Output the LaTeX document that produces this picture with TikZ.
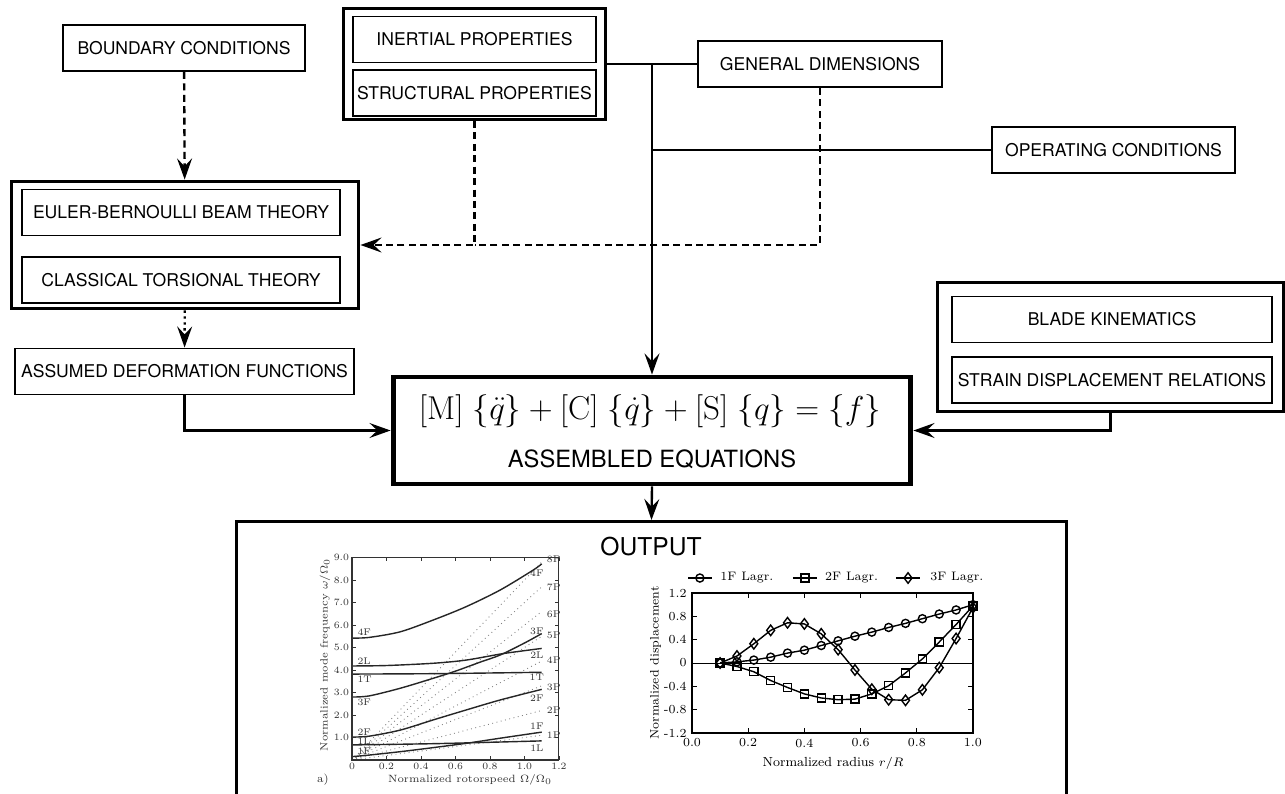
\documentclass[tikz,border=0pt]{standalone}
\usepackage{amsmath,amssymb}
\usepackage{graphicx}
\usepackage{fontspec}
\setsansfont{TeX Gyre Heros}
\usepackage{tikz}
\usetikzlibrary{arrows.meta, positioning, calc, plotmarks}

\begin{document}
\begin{tikzpicture}[
    x=0.02cm, y=-0.02cm,
    blk/.style={draw, line width=1.1pt, font=\sffamily\fontsize{10}{12}\selectfont, minimum height=0.92cm, inner sep=1pt},
    grp/.style={draw, line width=1.7pt},
    wire/.style={line width=1.35pt},
    edge/.style={wire, -{Stealth[length=12pt, width=8.5pt, inset=4.5pt]}},
    dsh/.style={dash pattern=on 4pt off 2.5pt},
    crv/.style={line width=0.8pt, black!85},
    mk/.style={line width=0.8pt, mark size=2.3pt, mark options={solid, fill=white}},
    tck/.style={line width=0.4pt}
]
    \useasboundingbox (0,0) rectangle (1285,794);

    \node[blk, minimum width=4.84cm] (bc) at (184,48) {BOUNDARY CONDITIONS};

    \node[grp, minimum width=6.96cm, minimum height=2.56cm] (theory) at (185,245) {};
    \node[blk, minimum width=6.36cm] (euler) at (181,212.5) {EULER-BERNOULLI BEAM THEORY};
    \node[blk, minimum width=6.36cm, below=0.4cm of euler] (tors) {CLASSICAL TORSIONAL THEORY};

    \node[blk, minimum width=6.78cm] (defo) at (184.5,371.5) {ASSUMED DEFORMATION FUNCTIONS};

    \node[grp, minimum width=5.26cm, minimum height=2.22cm] (props) at (474.5,64) {};
    \node[blk, minimum width=4.86cm] (inert) at (474.5,39.5) {INERTIAL PROPERTIES};
    \node[blk, minimum width=4.86cm, below=0.12cm of inert] (struct) {STRUCTURAL PROPERTIES};

    \node[blk, minimum width=4.88cm] (gen) at (820,64) {GENERAL DIMENSIONS};
    \node[blk, minimum width=4.86cm] (oper) at (1113.5,150) {OPERATING CONDITIONS};

    \node[grp, minimum width=6.94cm, minimum height=2.6cm] (kin) at (1110.5,347) {};
    \node[blk, minimum width=6.4cm] (blade) at (1112,319.5) {BLADE KINEMATICS};
    \node[blk, minimum width=6.4cm, below=0.26cm of blade] (strain) {STRAIN DISPLACEMENT RELATIONS};

    \node[draw, line width=2.8pt, minimum width=10.36cm, minimum height=2.14cm] (eq) at (652,430.5) {};
    \node[inner sep=0pt] (eqn) at (650,411) {\scalebox{1.09}{\fontsize{17.28}{20}\selectfont$[\mathrm{M}]\;\{\ddot{q}\}+[\mathrm{C}]\;\{\dot{q}\}+[\mathrm{S}]\;\{q\}=\{f\}$}};
    \node[inner sep=0pt, font=\sffamily\fontsize{13.5}{15}\selectfont] (asm) at (652,459) {ASSEMBLED EQUATIONS};

    \node[grp, minimum width=16.62cm, minimum height=7cm, anchor=north] (out) at (651.5,520) {};
    \node[font=\sffamily\fontsize{14}{16}\selectfont] (outlbl) at (651,547) {OUTPUT};

    \draw[edge, dsh] (bc) -- (theory);
    \draw[edge, dotted] (theory) -- (defo);
    \draw[wire, dsh] (gen.south) |- (props.south |- theory.east);
    \draw[edge, dsh] (props.south) |- (theory.east);
    \draw[wire] (props.east) -- (gen.west);
    \draw[edge] (props.east -| eq.north) -- (eq.north);
    \draw[wire] (oper.west) -- (oper.west -| eq.north);
    \draw[edge] (defo.south) |- (eq.west);
    \draw[edge] (kin.south) |- (eq.east);
    \draw[edge] (eq.south) -- (out.north);

    \begin{scope}[shift={(352,760)}, x=3.45cm, y=0.45cm, font=\fontsize{5.5}{6}\selectfont, black!80]
        \foreach \n in {1,...,8}
            \draw[gray, dotted, line width=0.5pt] (0,0) -- (1.1,1.1*\n);
        \draw[crv] plot[smooth] coordinates {(0,5.42) (0.1,5.45) (0.28,5.7) (0.47,6.22) (0.66,6.81) (0.86,7.56) (1.05,8.44) (1.1,8.72)};
        \draw[crv] plot[smooth] coordinates {(0,4.18) (0.2,4.2) (0.47,4.3) (0.66,4.44) (0.86,4.71) (0.95,4.81) (1.1,4.96)};
        \draw[crv] plot[smooth] coordinates {(0,3.82) (0.5,3.84) (1.1,3.9)};
        \draw[crv] plot[smooth] coordinates {(0,2.8) (0.1,2.85) (0.28,3.19) (0.47,3.63) (0.6,3.95) (0.75,4.37) (0.86,4.67) (1.0,5.2) (1.1,5.62)};
        \draw[crv] plot[smooth] coordinates {(0,1.02) (0.1,1.06) (0.28,1.33) (0.47,1.78) (0.66,2.22) (0.86,2.67) (1.1,3.14)};
        \draw[crv] plot[smooth] coordinates {(0,0.67) (0.5,0.73) (1.1,0.85)};
        \draw[crv] plot[smooth] coordinates {(0,0.15) (0.1,0.22) (0.28,0.37) (0.47,0.55) (0.66,0.74) (0.86,0.97) (1.1,1.24)};
        \draw[line width=0.6pt] (0,0) rectangle (1.2,9);
        \foreach \t/\l [count=\i] in {0/0,0.2/0.2,0.4/0.4,0.6/0.6,0.8/0.8,1.0/1.0,1.2/1.2}{
            \draw[tck] (\t,0) -- ++(0,2pt) (\t,9) -- ++(0,-2pt);
            \node[below, inner sep=1.5pt] (ax\i) at (\t,0) {\l};}
        \foreach \v in {1,...,9}{
            \draw[tck] (0,\v) -- ++(2pt,0) (1.2,\v) -- ++(-2pt,0);
            \node[left, inner sep=1.5pt] (ay\v) at (0,\v) {\v.0};}
        \node[right, inner sep=0pt] (la4F) at (0.03,5.69) {4F};
        \node[right, inner sep=0pt] (la2L) at (0.03,4.4) {2L};
        \node[right, inner sep=0pt] (la1T) at (0.03,3.6) {1T};
        \node[right, inner sep=0pt] (la3F) at (0.03,2.58) {3F};
        \node[right, inner sep=0pt] (la2F) at (0.03,1.24) {2F};
        \node[right, inner sep=0pt] (la1L) at (0.03,0.84) {1L};
        \node[right, inner sep=0pt] (la1F) at (0.03,0.4) {1F};
        \node (lb8P) at (1.17,8.93) {8P};
        \node (lb4F) at (1.072,8.31) {4F};
        \node (lb7P) at (1.17,7.69) {7P};
        \node (lb6P) at (1.17,6.49) {6P};
        \node (lb3F) at (1.072,5.73) {3F};
        \node (lb5P) at (1.17,5.56) {5P};
        \node (lb2L) at (1.072,4.67) {2L};
        \node (lb4P) at (1.17,4.44) {4P};
        \node (lb1T) at (1.072,3.69) {1T};
        \node (lb3P) at (1.17,3.24) {3P};
        \node (lb2F) at (1.072,2.75) {2F};
        \node (lb2P) at (1.17,2.22) {2P};
        \node (lb1F) at (1.072,1.51) {1F};
        \node (lb1P) at (1.17,1.11) {1P};
        \node (lb1L) at (1.072,0.53) {1L};
        \node[font=\fontsize{6}{7}\selectfont] (xlab) at (0.684,-0.89) {Normalized rotorspeed $\Omega/\Omega_0$};
        \node[font=\fontsize{6}{7}\selectfont, rotate=90] (ylab) at (-0.157,4.67) {Normalized mode frequency $\omega/\Omega_0$};
        \node[font=\fontsize{6.5}{7}\selectfont] (tag) at (-0.168,-0.89) {a)};
    \end{scope}

    \begin{scope}[shift={(692,663)}, x=5.62cm, y=1.166cm, font=\fontsize{7}{8}\selectfont]
        \draw[line width=0.5pt] (0,0) -- (1,0);
        \draw[mk] plot[mark=o] coordinates {(0.1,0) (0.16,0.02) (0.22,0.05) (0.28,0.1) (0.34,0.17) (0.4,0.22) (0.46,0.3) (0.52,0.38) (0.58,0.46) (0.64,0.53) (0.7,0.61) (0.76,0.68) (0.82,0.76) (0.88,0.84) (0.94,0.91) (1,1)};
        \draw[mk] plot[mark=square] coordinates {(0.1,0) (0.16,-0.06) (0.22,-0.15) (0.28,-0.3) (0.34,-0.42) (0.4,-0.53) (0.46,-0.6) (0.52,-0.63) (0.58,-0.62) (0.64,-0.53) (0.7,-0.39) (0.76,-0.17) (0.82,0.07) (0.88,0.36) (0.94,0.66) (1,0.98)};
        \draw[mk, mark size=3pt] plot[mark=diamond] coordinates {(0.1,0) (0.16,0.12) (0.22,0.33) (0.28,0.56) (0.34,0.69) (0.4,0.67) (0.46,0.5) (0.52,0.23) (0.58,-0.12) (0.64,-0.45) (0.7,-0.63) (0.76,-0.64) (0.82,-0.46) (0.88,-0.08) (0.94,0.42) (1,0.95)};
        \draw[line width=0.7pt] (0,-1.2) rectangle (1,1.2);
        \foreach \t/\l [count=\i] in {0/0.0,0.2/0.2,0.4/0.4,0.6/0.6,0.8/0.8,1/1.0}{
            \draw[tck] (\t,-1.2) -- ++(0,3pt) (\t,1.2) -- ++(0,-3pt);
            \node (bx\i) at (\t,-1.372) {\l};}
        \foreach \v/\l [count=\i] in {1.2/1.2,0.8/0.8,0.4/0.4,0/0,-0.4/-0.4,-0.8/-0.8,-1.2/-1.2}{
            \draw[tck] (0,\v) -- ++(3pt,0) (1,\v) -- ++(-3pt,0);
            \node[left, inner sep=1pt] (by\i) at (-0.012,\v) {\l};}
        \draw[mk] (-0.014,1.458) -- (0.071,1.458);
        \draw[mk] plot[mark=o] coordinates {(0.028,1.458)};
        \node[right, inner sep=0pt] (lg1) at (0.1,1.458) {1F Lagr.};
        \draw[mk] (0.359,1.458) -- (0.445,1.458);
        \draw[mk] plot[mark=square] coordinates {(0.402,1.458)};
        \node[right, inner sep=0pt] (lg2) at (0.473,1.458) {2F Lagr.};
        \draw[mk] (0.726,1.458) -- (0.811,1.458);
        \draw[mk, mark size=3pt] plot[mark=diamond] coordinates {(0.769,1.458)};
        \node[right, inner sep=0pt] (lg3) at (0.847,1.458) {3F Lagr.};
        \node[font=\fontsize{7.5}{9}\selectfont] (rlab) at (0.502,-1.715) {Normalized radius $r/R$};
        \node[font=\fontsize{7}{8}\selectfont, rotate=90] (dlab) at (-0.13,0) {Normalized displacement};
    \end{scope}
\end{tikzpicture}
\end{document}
